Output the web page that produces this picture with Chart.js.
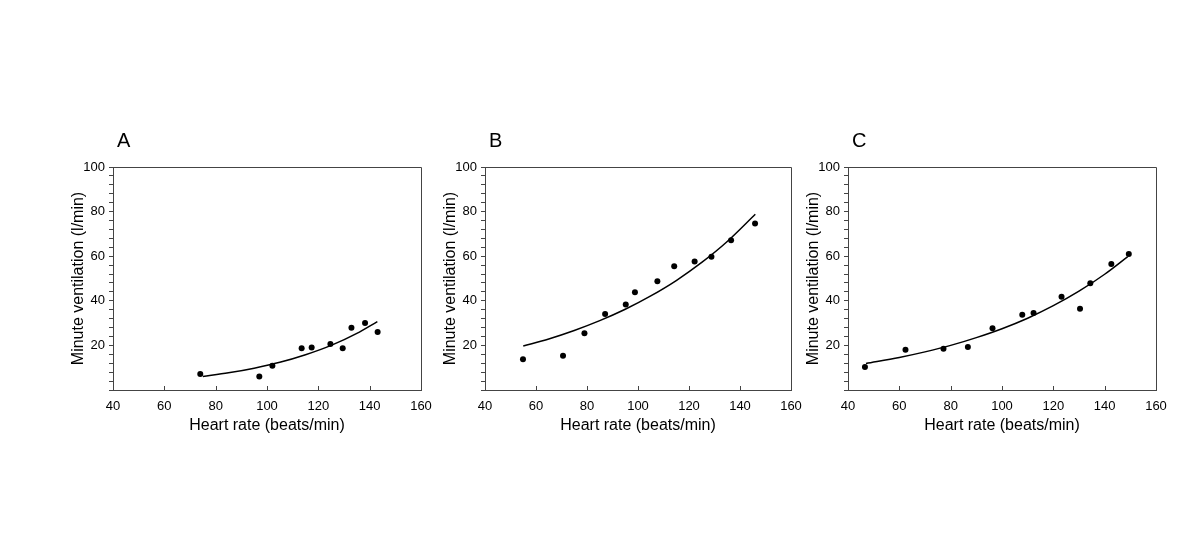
<!DOCTYPE html>
<html>
<head>
<meta charset="utf-8">
<script src="https://cdn.jsdelivr.net/npm/chart.js@4/dist/chart.umd.min.js"></script>
<style>
  html, body { margin:0; padding:0; background:#fff; }
  #wrap { position:relative; width:1200px; height:538px; overflow:hidden; background:#fff; }
  canvas { position:absolute; }
</style>
</head>
<body>
<div id="wrap">
  <canvas id="chartA"></canvas>
  <canvas id="chartB"></canvas>
  <canvas id="chartC"></canvas>
</div>
<script>
const FONT = "'Liberation Sans', Arial, sans-serif";
const AXIS_COLOR = '#444';

const X_TITLE = 'Heart rate (beats/min)';
const Y_TITLE = 'Minute ventilation (l/min)';
const X_TICKS = [40, 60, 80, 100, 120, 140, 160];
const Y_LABELS = [20, 40, 60, 80, 100];
const Y_MINOR_STEP = 4;

// panel A
const HR_A = [74.0, 97.0, 102.1, 113.5, 117.4, 124.7, 129.5, 132.9, 138.2, 143.1];
const VE_A = [7.2, 6.0, 10.9, 18.7, 19.1, 20.6, 18.7, 27.9, 30.0, 26.0];
const FIT_HR_A = [75, 85, 95, 105, 115, 125, 135, 143];
const FIT_VE_A = [6.1, 7.7, 9.8, 12.4, 15.8, 20.0, 25.4, 30.7];

// panel B
const HR_B = [54.9, 70.6, 79.0, 87.1, 95.2, 98.8, 107.6, 114.2, 122.2, 128.8, 136.5, 145.9];
const VE_B = [13.8, 15.4, 25.4, 34.1, 38.3, 43.8, 48.8, 55.5, 57.6, 59.7, 67.1, 74.7];
const FIT_HR_B = [55, 65, 75, 85, 95, 105, 115, 125, 135, 146];
const FIT_VE_B = [19.7, 22.9, 26.7, 31.1, 36.2, 42.2, 49.1, 57.2, 66.6, 78.8];

// panel C
const HR_C = [46.6, 62.4, 77.2, 86.7, 96.3, 107.9, 112.3, 123.2, 130.4, 134.4, 142.6, 149.4];
const VE_C = [10.3, 18.1, 18.5, 19.3, 27.7, 33.7, 34.5, 41.8, 36.4, 47.9, 56.5, 61.0];
const FIT_HR_C = [47, 60, 70, 80, 90, 100, 110, 120, 130, 140, 149];
const FIT_VE_C = [11.9, 14.6, 17.1, 20.0, 23.5, 27.5, 32.2, 37.8, 44.3, 51.9, 59.8];

// where each plot area sits on the page
const PANELS = [
  { id:'chartA', letter:'A', left:113, right:421, hr:HR_A, ve:VE_A, fitHr:FIT_HR_A, fitVe:FIT_VE_A },
  { id:'chartB', letter:'B', left:485, right:791, hr:HR_B, ve:VE_B, fitHr:FIT_HR_B, fitVe:FIT_VE_B },
  { id:'chartC', letter:'C', left:848, right:1156, hr:HR_C, ve:VE_C, fitHr:FIT_HR_C, fitVe:FIT_VE_C }
];
const PLOT_TOP = 167, PLOT_BOTTOM = 390, CANVAS_TOP = 120, CANVAS_H = 320;
const LEFT_SPACE = 85, RIGHT_SPACE = 22;

function pairs(xs, ys){ return xs.map((x,i)=>({ x:x, y:ys[i] })); }

const framePlugin = {
  id: 'frame',
  afterDraw(chart, args, opts){
    const { ctx, chartArea: a, scales } = chart;
    ctx.save();
    ctx.strokeStyle = AXIS_COLOR;
    ctx.lineWidth = 1;
    // top and right edge of the box
    ctx.beginPath();
    ctx.moveTo(Math.round(a.left)+0.5, Math.round(a.top)+0.5);
    ctx.lineTo(Math.round(a.right)+0.5, Math.round(a.top)+0.5);
    ctx.lineTo(Math.round(a.right)+0.5, Math.round(a.bottom)+0.5);
    ctx.stroke();
    // inward x ticks
    ctx.beginPath();
    X_TICKS.forEach(v=>{
      const px = Math.round(scales.x.getPixelForValue(v))+0.5;
      ctx.moveTo(px, Math.round(a.bottom));
      ctx.lineTo(px, Math.round(a.bottom)-4);
    });
    ctx.stroke();
    // panel letter
    ctx.fillStyle = '#000';
    ctx.font = '20px ' + FONT;
    ctx.textBaseline = 'middle';
    ctx.textAlign = 'left';
    ctx.fillText(opts.letter, a.left + 4, a.top - 26);
    ctx.restore();
  }
};

function makeChart(p){
  const canvasLeft = p.left - LEFT_SPACE;
  const w = (p.right - p.left) + LEFT_SPACE + RIGHT_SPACE;
  const el = document.getElementById(p.id);
  el.style.left = canvasLeft + 'px';
  el.style.top = CANVAS_TOP + 'px';
  el.width = w; el.height = CANVAS_H;
  el.style.width = w + 'px'; el.style.height = CANVAS_H + 'px';

  const yTitleX = 51; // title centre, canvas coords
  const padLeft = yTitleX - 9.6;
  const padBottom = 5;
  const xHeight = CANVAS_H - padBottom - (PLOT_BOTTOM - CANVAS_TOP);

  return new Chart(el.getContext('2d'), {
    type: 'scatter',
    data: {
      datasets: [
        { label:'data', data: pairs(p.hr, p.ve), showLine:false,
          pointRadius:3, pointBackgroundColor:'#000', pointBorderWidth:0 },
        { label:'fit', data: pairs(p.fitHr, p.fitVe), showLine:true, pointRadius:0,
          borderColor:'#000', borderWidth:1.5, tension:0.4, cubicInterpolationMode:'monotone' }
      ]
    },
    options: {
      responsive:false, animation:false,
      layout: { padding: { left: padLeft, right: RIGHT_SPACE, top: PLOT_TOP - CANVAS_TOP, bottom: padBottom } },
      plugins: { legend:{ display:false }, tooltip:{ enabled:false }, frame:{ letter:p.letter } },
      scales: {
        x: {
          type:'linear', min:40, max:160,
          afterBuildTicks: s => { s.ticks = X_TICKS.map(v=>({ value:v })); },
          afterFit: s => { s.height = xHeight; },
          grid: { drawOnChartArea:false, drawTicks:false },
          border: { display:true, color:AXIS_COLOR, width:1 },
          ticks: { padding:9, color:'#000', font:{ family:FONT, size:13 }, autoSkip:false, maxRotation:0 },
          title: { display:true, text:X_TITLE, color:'#000', padding:0, font:{ family:FONT, size:16 } }
        },
        y: {
          type:'linear', min:0, max:100,
          afterBuildTicks: s => {
            const t = [];
            for(let v=0; v<=100; v+=Y_MINOR_STEP) t.push({ value:v });
            s.ticks = t;
          },
          afterFit: s => { s.width = LEFT_SPACE - padLeft; },
          grid: { drawOnChartArea:false, drawTicks:true, tickLength:4, color:AXIS_COLOR },
          border: { display:true, color:AXIS_COLOR, width:1 },
          ticks: { padding:4, color:'#000', font:{ family:FONT, size:13 }, autoSkip:false,
                   callback: v => Y_LABELS.includes(v) ? String(v) : '' },
          title: { display:true, text:Y_TITLE, color:'#000', padding:0, font:{ family:FONT, size:16 } }
        }
      }
    },
    plugins: [framePlugin]
  });
}

document.addEventListener('DOMContentLoaded', ()=>{
  PANELS.forEach(makeChart);
});
</script>
</body>
</html>
